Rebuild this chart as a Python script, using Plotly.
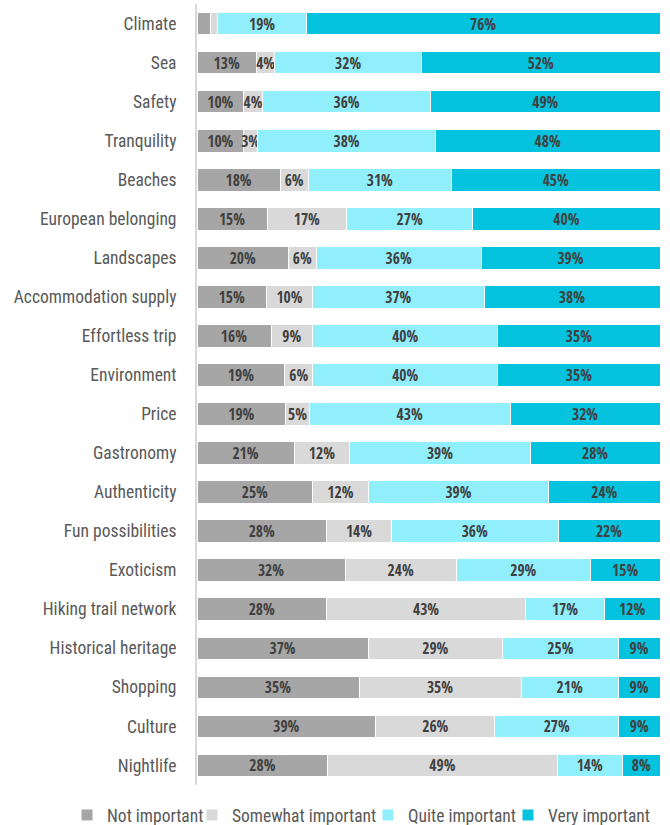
import plotly.graph_objects as go

categories = ["Climate", "Sea", "Safety", "Tranquility", "Beaches", "European belonging",
              "Landscapes", "Accommodation supply", "Effortless trip", "Environment", "Price",
              "Gastronomy", "Authenticity", "Fun possibilities", "Exoticism",
              "Hiking trail network", "Historical heritage", "Shopping", "Culture", "Nightlife"]
not_important = [3, 13, 10, 10, 18, 15, 20, 15, 16, 19, 19, 21, 25, 28, 32, 28, 37, 35, 39, 28]
somewhat_important = [1.5, 4, 4, 3, 6, 17, 6, 10, 9, 6, 5, 12, 12, 14, 24, 43, 29, 35, 26, 49]
quite_important = [19, 32, 36, 38, 31, 27, 36, 37, 40, 40, 43, 39, 39, 36, 29, 17, 25, 21, 27, 14]
very_important = [76, 52, 49, 48, 45, 40, 39, 38, 35, 35, 32, 28, 24, 22, 15, 12, 9, 9, 9, 8]
hidden_labels = {("Not important", "Climate"), ("Somewhat important", "Climate")}

series = [("Not important", not_important, "#a6a6a6"),
          ("Somewhat important", somewhat_important, "#d9d9d9"),
          ("Quite important", quite_important, "#91effc"),
          ("Very important", very_important, "#05c3de")]

FONT = "Roboto Condensed, DejaVu Sans Condensed, sans-serif"
BOLD = "Open Sans Condensed, Roboto Condensed, sans-serif"

# each legend entry gets its own legend box so its position can match the reference
legend_ids = ["legend", "legend2", "legend3", "legend4"]
legend_left = [67, 192, 368, 508]

fig = go.Figure()
for (name, vals, color), lid in zip(series, legend_ids):
    texts = ["" if (name, c) in hidden_labels else f"{round(v)}%" for c, v in zip(categories, vals)]
    fig.add_trace(go.Bar(
        y=categories, x=vals, name=name, orientation="h", legend=lid,
        marker=dict(color=color, line=dict(color="white", width=1)),
        text=texts, textposition="inside", insidetextanchor="middle",
        textangle=0,
        textfont=dict(family=BOLD, size=15.5, color="#404040", weight="bold"),
        hoverinfo="skip",
    ))

legend_common = dict(orientation="h", xref="container", yref="container", xanchor="left",
                     yanchor="middle", y=0.012, bgcolor="rgba(0,0,0,0)",
                     font=dict(family=FONT, size=17.5, color="#595959"), itemwidth=30)
legend_layout = {lid: dict(legend_common, x=left / 670) for lid, left in zip(legend_ids, legend_left)}

fig.update_layout(
    barmode="stack", barnorm="percent", bargap=0.42,
    width=670, height=825,
    margin=dict(l=197, r=10, t=4, b=40, autoexpand=False),
    plot_bgcolor="white", paper_bgcolor="white",
    font=dict(family=FONT, color="#595959", size=17.5),
    uniformtext=dict(minsize=15.5, mode="show"),
    xaxis=dict(range=[0, 100], visible=False, fixedrange=True),
    yaxis=dict(autorange="reversed", showline=True, linecolor="#d9d9d9", linewidth=2,
               ticks="", ticklabelstandoff=15, showgrid=False, automargin=False,
               tickfont=dict(family=FONT, size=17.5, color="#595959")),
    showlegend=True,
    **legend_layout,
)
fig.write_html("out.html", post_script="document.body.style.margin='0';",
               config={"displayModeBar": False})
